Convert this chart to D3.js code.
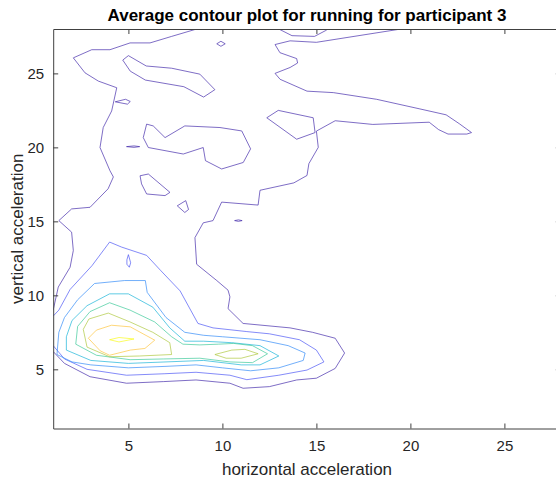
<!DOCTYPE html>
<html>
<head>
<meta charset="utf-8">
<script src="https://cdn.jsdelivr.net/npm/d3@7"></script>
<style>
  body { margin: 0; background: #fff; }
  svg { display: block; font-family: "Liberation Sans", Arial, sans-serif; }
</style>
</head>
<body>
<svg id="chart" width="556" height="479"></svg>
<script>
// ---- data (contour lines, in data units) ----
const xTicks = [5, 10, 15, 20, 25];
const yTicks = [5, 10, 15, 20, 25];
const levels = [1, 2, 3, 4, 5, 6, 7, 8];

// level 1 (outermost)
const outerLeft = [[8.63,28],[7.3,27.5],[6.15,27.06],[5.09,27.06],[4.02,26.6],[3.05,26.6],[2.07,26.05],[2.69,25.04],[3.4,24.48],[4.38,24.03],[4.11,22.46],[3.66,21.34],[3.49,19.99],[4.02,18.42],[4.2,18.0],[3.92,17.2],[2.96,15.95],[1.98,15.84],[1.3,15.05],[1.98,14.27],[2.07,13.03],[1.9,11.9],[1.27,10.56],[1.0,9.0]];
const outerRight = [[19.5,28],[17.0,27.5],[15.0,27.1],[13.6,27.2],[12.8,26.95],[13.06,26.4],[13.95,26.0],[14.0,25.7],[13.6,25.4],[12.8,25.0],[13.07,24.6],[14.5,23.8],[15.9,23.7],[18.2,23.25],[20.5,22.6],[21.9,22.2],[22.6,21.6],[23.25,21.0],[23.0,20.9],[22.0,20.9],[21.5,21.2],[21.0,21.7],[18.0,21.55],[16.0,21.8],[15.0,21.1],[15.1,20.0],[14.6,18.9],[14.5,18.1],[13.8,17.6],[12.0,17.1],[11.9,16.1],[9.96,16.3],[9.5,15.05],[8.98,14.9],[8.54,13.9],[8.63,12.1],[9.7,11.0],[10.3,10.35],[10.4,9.9],[10.3,9.1],[11.1,8.1],[13.6,7.8],[14.8,7.5],[16.0,7.1],[16.5,6.1],[16.0,5.06],[15.0,4.4],[13.95,4.28],[12.5,3.83],[11.1,3.72],[10.4,4.06],[8.6,4.28],[6.86,4.17],[4.9,4.06],[2.96,4.5],[1.6,5.4],[1.0,6.2]];
const topDip = [[13.0,28],[13.7,27.55],[14.9,27.5],[15.5,27.9],[15.6,28]];
const islandLong = [[4.7,25.9],[5.0,26.2],[5.95,25.5],[7.3,25.35],[8.8,24.95],[9.6,23.9],[9.0,23.4],[7.95,24.1],[5.9,24.55],[5.1,25.15]];
const islandDiamond = [[9.7,27.0],[9.92,27.17],[10.15,27.0],[9.92,26.83]];
const islandSliver = [[4.3,23.08],[4.85,23.25],[5.1,23.1],[4.95,22.92]];
const islandMid = [[5.97,21.57],[5.79,20.66],[6.06,19.99],[7.92,19.55],[8.98,19.99],[9.1,19.1],[9.96,18.54],[11.11,18.98],[11.5,19.9],[11.03,21.11],[9.87,21.34],[8.0,21.45],[6.95,20.66],[6.32,21.45]];
const islandDash = [[4.9,20.05],[5.3,20.1],[5.6,20.05],[5.3,20.0]];
const islandSmall = [[5.62,18.08],[6.06,18.2],[7.21,16.96],[6.95,16.74],[5.97,16.85],[5.7,17.53]];
const islandTiny = [[7.6,16.05],[8.05,16.4],[8.2,15.8],[8.0,15.6]];
const islandDot = [[10.65,15.05],[10.85,15.1],[11.05,15.05],[10.85,15.0]];
const islandRight = [[12.36,22.0],[12.97,22.5],[14.83,22.0],[14.93,21.0],[13.95,20.55]];

// levels 2..8 (core)
const core2 = [[1.0,6.6],[1.6,5.7],[2.8,5.0],[4.9,4.6],[6.9,4.7],[8.6,4.8],[10.4,4.6],[11.3,4.3],[13.0,4.6],[14.5,4.95],[15.4,5.5],[15.0,6.3],[14.1,7.0],[12.5,7.4],[11.3,7.55],[9.5,7.8],[8.7,8.1],[7.75,10.3],[6.7,11.7],[5.97,12.7],[4.64,13.26],[4.0,13.6],[3.06,12.0],[1.9,10.4],[1.3,9.0],[1.0,8.6]];
const dip2 = [[5.0,12.75],[5.12,12.2],[5.05,11.9],[4.92,12.1],[4.92,12.4]];
const core3 = [[1.2,6.0],[2.0,5.5],[3.0,5.3],[5.0,5.1],[7.0,5.2],[8.6,5.3],[10.0,5.1],[11.5,4.9],[13.0,5.1],[14.3,5.6],[14.4,6.1],[13.5,6.6],[12.0,7.0],[10.0,7.2],[9.0,7.3],[8.0,7.5],[7.0,8.5],[6.0,10.2],[5.9,11.0],[4.8,11.0],[3.2,10.8],[2.3,9.7],[1.6,8.5],[1.3,7.5]];
const core4 = [[1.7,6.3],[3.0,5.6],[5.0,5.4],[7.0,5.5],[9.0,5.6],[11.0,5.3],[12.0,5.3],[13.0,5.9],[12.0,6.6],[10.5,6.8],[9.0,6.9],[8.0,6.9],[7.2,7.8],[6.3,9.2],[5.0,10.1],[4.0,10.1],[2.8,9.3],[2.0,8.3],[1.7,7.2]];
const core5 = [[2.2,6.7],[3.3,5.95],[5.09,5.65],[6.86,5.7],[8.8,5.75],[10.4,5.5],[11.6,5.45],[12.4,6.05],[11.6,6.6],[10.6,6.75],[9.8,6.7],[8.8,6.65],[7.9,6.7],[7.3,7.2],[6.4,8.2],[5.09,9.0],[4.0,9.5],[2.96,8.9],[2.3,7.9]];
const core6 = [[2.6,7.7],[2.9,8.4],[3.93,8.8],[5.09,8.2],[6.3,7.5],[7.2,6.8],[7.3,6.0],[5.6,5.9],[4.0,5.85],[2.8,6.5]];
const peak6 = [[9.6,6.0],[10.5,6.3],[11.2,6.35],[11.9,6.05],[11.0,5.75],[10.2,5.75]];
const core7 = [[2.87,7.1],[3.3,7.65],[4.1,7.98],[5.1,7.87],[6.4,6.97],[5.88,6.41],[5.1,6.3],[4.0,5.95],[3.5,6.25]];
const core8 = [[4.0,7.0],[4.5,7.15],[5.3,7.05],[4.5,6.85]];

// which level each line belongs to, and whether it closes on itself
const lines = [
  { level: 1, pts: outerLeft, closed: false },
  { level: 1, pts: outerRight, closed: false },
  { level: 1, pts: topDip, closed: false },
  { level: 1, pts: islandLong, closed: true },
  { level: 1, pts: islandDiamond, closed: true },
  { level: 1, pts: islandSliver, closed: true },
  { level: 1, pts: islandMid, closed: true },
  { level: 1, pts: islandDash, closed: true },
  { level: 1, pts: islandSmall, closed: true },
  { level: 1, pts: islandTiny, closed: true },
  { level: 1, pts: islandDot, closed: true },
  { level: 1, pts: islandRight, closed: true },
  { level: 2, pts: core2, closed: false },
  { level: 2, pts: dip2, closed: true },
  { level: 3, pts: core3, closed: true },
  { level: 4, pts: core4, closed: true },
  { level: 5, pts: core5, closed: true },
  { level: 6, pts: core6, closed: true },
  { level: 6, pts: peak6, closed: true },
  { level: 7, pts: core7, closed: true },
  { level: 8, pts: core8, closed: true }
];

// ---- chart ----
const width = 556, height = 479;
const margin = { left: 53.2, right: -4.8, top: 29, bottom: 50.5 };
const axisColor = "#404040";
const textColor = "#262626";

const svg = d3.select("#chart");
svg.append("rect").attr("width", width).attr("height", height).attr("fill", "#fff");

const x = d3.scaleLinear().domain([1, 28]).range([margin.left, width - margin.right]);
const y = d3.scaleLinear().domain([1, 28]).range([height - margin.bottom, margin.top]);

// parula colours, one per level
const parula = ["#3e26a8", "#4852f4", "#2d87f7", "#12b1d6", "#37c897", "#abc739", "#fec338", "#f9fb15"];
const color = d3.scaleOrdinal().domain(levels).range(parula);

svg.append("clipPath").attr("id", "plot-clip")
  .append("rect")
  .attr("x", x(1)).attr("y", y(28))
  .attr("width", x(28) - x(1)).attr("height", y(1) - y(28));

const plot = svg.append("g").attr("clip-path", "url(#plot-clip)");

const lineOpen = d3.line().x(d => x(d[0])).y(d => y(d[1]));
const lineClosed = d3.line().x(d => x(d[0])).y(d => y(d[1])).curve(d3.curveLinearClosed);

plot.selectAll("path.contour")
  .data(lines)
  .enter()
  .append("path")
  .attr("class", "contour")
  .attr("d", d => (d.closed ? lineClosed : lineOpen)(d.pts))
  .attr("fill", "none")
  .attr("stroke", d => color(d.level))
  .attr("stroke-width", 0.9)
  .attr("stroke-linejoin", "round")
  .attr("opacity", 0.75);

// axes: bottom/left with labels, top/right ticks only (box on)
const xAxis = svg.append("g")
  .attr("transform", `translate(0, ${y(1)})`)
  .call(d3.axisBottom(x).tickValues(xTicks).tickSizeInner(-5).tickSizeOuter(0).tickPadding(12));
const yAxis = svg.append("g")
  .attr("transform", `translate(${x(1)}, 0)`)
  .call(d3.axisLeft(y).tickValues(yTicks).tickSizeInner(-5).tickSizeOuter(0).tickPadding(9));
const xTop = svg.append("g")
  .attr("transform", `translate(0, ${y(28)})`)
  .call(d3.axisTop(x).tickValues(xTicks).tickSizeInner(-5).tickSizeOuter(0).tickFormat(""));
const yRight = svg.append("g")
  .attr("transform", `translate(${x(28)}, 0)`)
  .call(d3.axisRight(y).tickValues(yTicks).tickSizeInner(-5).tickSizeOuter(0).tickFormat(""));

[xAxis, yAxis, xTop, yRight].forEach(g => {
  g.select(".domain").attr("stroke", axisColor).attr("stroke-width", 1);
  g.selectAll(".tick line").attr("stroke", axisColor);
  g.selectAll(".tick text")
    .attr("fill", textColor)
    .attr("font-size", 15)
    .attr("font-family", "Liberation Sans, Arial, sans-serif");
});

// titles
svg.append("text")
  .text("Average contour plot for running for participant 3")
  .attr("x", (x(1) + x(28)) / 2)
  .attr("y", 21)
  .attr("text-anchor", "middle")
  .attr("font-size", 17)
  .attr("font-weight", "bold")
  .attr("fill", "#000");

svg.append("text")
  .text("horizontal acceleration")
  .attr("x", (x(1) + x(28)) / 2)
  .attr("y", 475)
  .attr("text-anchor", "middle")
  .attr("font-size", 17)
  .attr("fill", textColor);

svg.append("text")
  .text("vertical acceleration")
  .attr("transform", `translate(23, ${(y(1) + y(28)) / 2}) rotate(-90)`)
  .attr("text-anchor", "middle")
  .attr("font-size", 17)
  .attr("fill", textColor);
</script>
</body>
</html>
